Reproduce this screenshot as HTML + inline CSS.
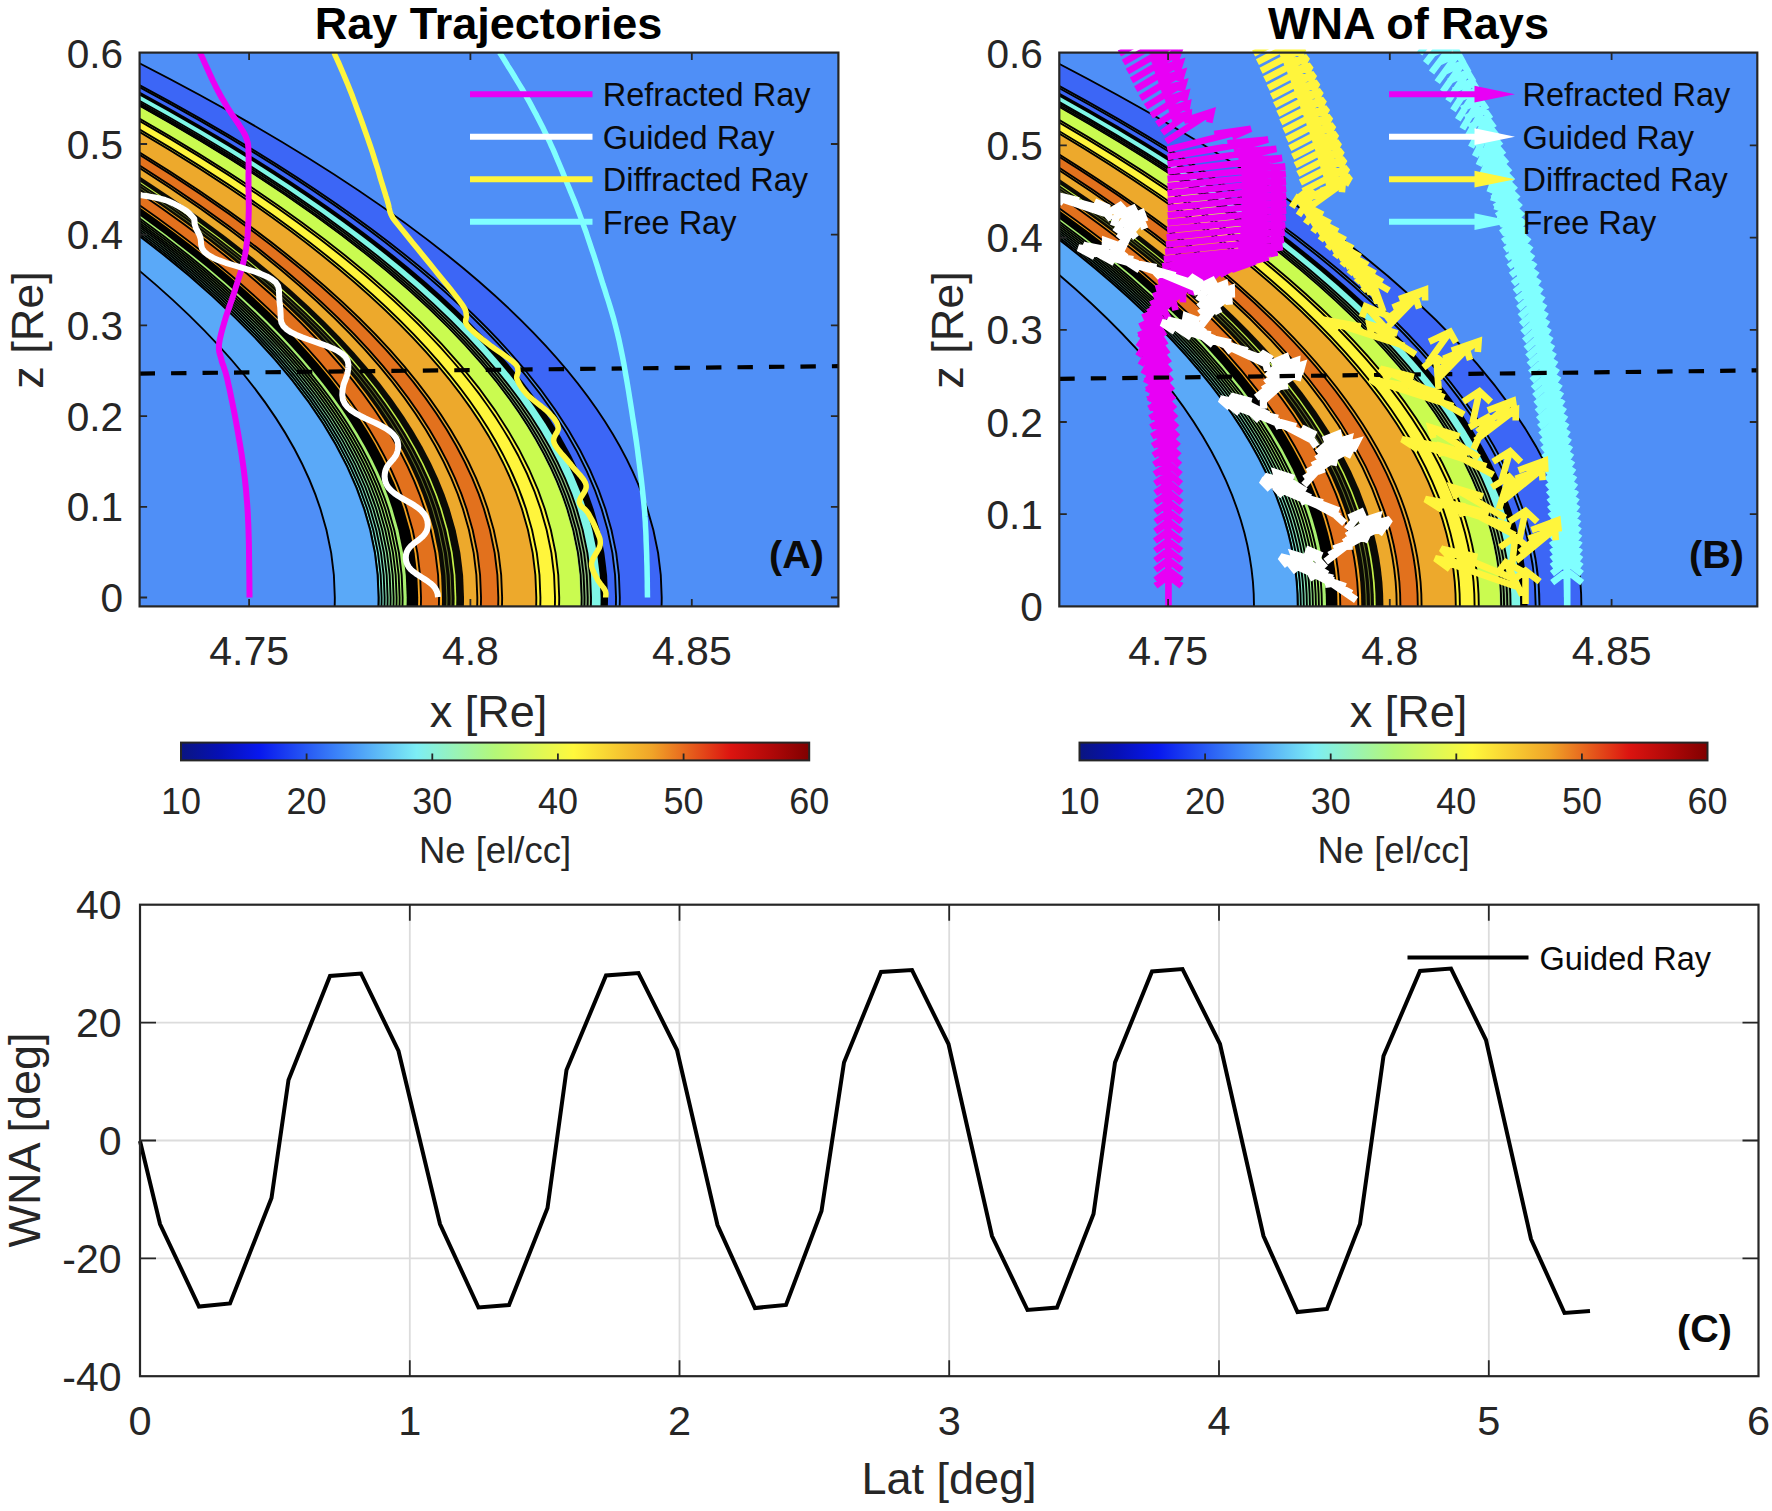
<!DOCTYPE html>
<html lang="en"><head><meta charset="utf-8"><title>Ray Trajectories and WNA of Rays</title>
<style>html,body{margin:0;padding:0;background:#fff}svg{display:block}text{font-family:"Liberation Sans", Arial, Helvetica, sans-serif}</style>
</head><body>
<svg width="1772" height="1511" viewBox="0 0 1772 1511">
<rect width="1772" height="1511" fill="#fff"/>
<defs><clipPath id="clipA"><rect x="139.6" y="52.6" width="698.8" height="553.8"/></clipPath>
<path id="rA" d="M-0.2,608.4 Q10.9,329.5 -547.3,50.6 L-2500,50.6 L-2500,608.4 Z"/>
<path id="lA" d="M-0.2,608.4 Q10.9,329.5 -547.3,50.6"/></defs>
<g clip-path="url(#clipA)">
<rect x="139.6" y="52.6" width="698.8" height="553.8" fill="#4F8FF7"/>
<use href="#rA" x="661.7" fill="#3C66F6"/>
<use href="#lA" x="661.7" fill="none" stroke="#000" stroke-width="1.9"/>
<use href="#rA" x="619.8" fill="#4F8FF7"/>
<use href="#lA" x="619.8" fill="none" stroke="#000" stroke-width="1.9"/>
<use href="#rA" x="616" fill="#3C66F6"/>
<use href="#lA" x="616" fill="none" stroke="#000" stroke-width="1.9"/>
<use href="#rA" x="608" fill="#000"/>
<use href="#rA" x="600.6" fill="#7FF6E6"/>
<use href="#rA" x="591" fill="#8FBF80"/>
<use href="#lA" x="591" fill="none" stroke="#000" stroke-width="1.9"/>
<use href="#lA" x="587.7" fill="none" stroke="#000" stroke-width="1.9"/>
<use href="#lA" x="584.5" fill="none" stroke="#000" stroke-width="1.9"/>
<use href="#lA" x="581.6" fill="none" stroke="#000" stroke-width="1.9"/>
<use href="#rA" x="580.3" fill="#CAFB50"/>
<use href="#rA" x="559.2" fill="#FFF53C"/>
<use href="#lA" x="559.2" fill="none" stroke="#000" stroke-width="1.9"/>
<use href="#lA" x="555" fill="none" stroke="#000" stroke-width="1.9"/>
<use href="#lA" x="540.4" fill="none" stroke="#000" stroke-width="1.9"/>
<use href="#rA" x="536.3" fill="#EDA92C"/>
<use href="#lA" x="536.3" fill="none" stroke="#000" stroke-width="1.9"/>
<use href="#lA" x="502.1" fill="none" stroke="#000" stroke-width="1.9"/>
<use href="#rA" x="498.3" fill="#E2711D"/>
<use href="#lA" x="498.3" fill="none" stroke="#000" stroke-width="1.9"/>
<use href="#rA" x="481" fill="#EDA92C"/>
<use href="#lA" x="481" fill="none" stroke="#000" stroke-width="1.9"/>
<use href="#lA" x="477.3" fill="none" stroke="#000" stroke-width="1.9"/>
<use href="#rA" x="464" fill="#0a0a05"/>
<use href="#rA" x="456.3" fill="#C4F04A"/>
<use href="#rA" x="454.6" fill="#0a0a05"/>
<use href="#rA" x="451.6" fill="#6b7a2a"/>
<use href="#rA" x="450.6" fill="#0a0a05"/>
<use href="#rA" x="447.4" fill="#6b7a2a"/>
<use href="#rA" x="446.4" fill="#0a0a05"/>
<use href="#rA" x="442" fill="#F2A21E"/>
<use href="#rA" x="439" fill="#E2711D"/>
<use href="#lA" x="439" fill="none" stroke="#000" stroke-width="1.9"/>
<use href="#rA" x="421" fill="#F2A21E"/>
<use href="#lA" x="421" fill="none" stroke="#000" stroke-width="1.9"/>
<use href="#rA" x="418.2" fill="#000"/>
<use href="#rA" x="406.7" fill="#A8F070"/>
<use href="#lA" x="402.6" fill="none" stroke="#000" stroke-width="1.9"/>
<use href="#rA" x="399.6" fill="#A8F070"/>
<use href="#lA" x="399.6" fill="none" stroke="#000" stroke-width="1.9"/>
<use href="#rA" x="396.6" fill="#A0EE82"/>
<use href="#lA" x="396.6" fill="none" stroke="#000" stroke-width="1.9"/>
<use href="#rA" x="393.6" fill="#98ED95"/>
<use href="#lA" x="393.6" fill="none" stroke="#000" stroke-width="1.9"/>
<use href="#rA" x="390.6" fill="#90EBA7"/>
<use href="#lA" x="390.6" fill="none" stroke="#000" stroke-width="1.9"/>
<use href="#rA" x="387.6" fill="#88E9B9"/>
<use href="#lA" x="387.6" fill="none" stroke="#000" stroke-width="1.9"/>
<use href="#rA" x="384.6" fill="#80E7CB"/>
<use href="#lA" x="384.6" fill="none" stroke="#000" stroke-width="1.9"/>
<use href="#rA" x="381.6" fill="#78E6DE"/>
<use href="#lA" x="381.6" fill="none" stroke="#000" stroke-width="1.9"/>
<use href="#rA" x="378.6" fill="#70E4F0"/>
<use href="#lA" x="378.6" fill="none" stroke="#000" stroke-width="1.9"/>
<use href="#rA" x="378.5" fill="#5AA9F8"/>
<use href="#lA" x="378.5" fill="none" stroke="#000" stroke-width="1.9"/>
<use href="#rA" x="334.8" fill="#4F8FF7"/>
<use href="#lA" x="334.8" fill="none" stroke="#000" stroke-width="1.9"/>
</g>
<g clip-path="url(#clipA)" fill="none" stroke-linejoin="round">
<path d="M139.6,373.6 L838.4,366.2" stroke="#000" stroke-width="4.2" stroke-dasharray="15.4,16.07"/>
<path d="M200,52.5 200.9,54.5 202.1,57.1 203.5,60.2 205,63.6 206.7,67.3 208.5,71.2 210.2,75 211.9,78.6 213.5,82 215,85 216.3,87.7 217.6,90.2 218.9,92.5 220.1,94.8 221.3,97 222.5,99.1 223.8,101.2 225,103.3 226.2,105.4 227.5,107.5 228.8,109.7 230.3,111.9 231.7,114.1 233.2,116.3 234.7,118.4 236.1,120.5 237.5,122.5 238.8,124.5 239.9,126.3 241,128 241.9,129.5 242.8,130.9 243.5,132.2 244.2,133.4 244.8,134.5 245.3,135.6 245.8,136.7 246.2,137.7 246.6,138.8 247,140 247.3,141.1 247.6,142.1 247.8,142.9 248,143.8 248.1,144.7 248.2,145.7 248.3,146.9 248.4,148.3 248.4,149.9 248.5,152 248.6,154.4 248.6,157.2 248.6,160.3 248.6,163.6 248.6,167.1 248.6,170.6 248.5,174.3 248.5,177.9 248.5,181.5 248.5,185 248.5,188.4 248.6,191.9 248.6,195.4 248.7,198.9 248.7,202.4 248.8,205.9 248.8,209.4 248.7,213 248.6,216.5 248.5,220 248.3,223.5 248.1,227 247.9,230.5 247.7,234 247.4,237.5 247,241 246.6,244.5 246.2,248 245.6,251.5 245,255 244.3,258.5 243.4,262.1 242.5,265.7 241.5,269.2 240.4,272.8 239.3,276.4 238.2,279.9 237.1,283.3 236,286.7 235,290 234,293.2 232.9,296.4 231.9,299.5 230.8,302.6 229.8,305.6 228.7,308.6 227.7,311.5 226.7,314.4 225.8,317.2 225,320 224.2,322.7 223.4,325.5 222.6,328.2 221.9,330.8 221.2,333.4 220.6,336 220,338.4 219.6,340.7 219.2,342.9 219,345 218.9,346.9 218.9,348.6 219,350.1 219.2,351.5 219.5,352.8 219.8,354.1 220.2,355.4 220.6,356.8 221.1,358.3 221.5,360 221.9,361.7 222.4,363.2 222.9,364.7 223.5,366.2 224,367.8 224.6,369.6 225.3,371.6 226,374 226.7,376.8 227.5,380 228.3,383.8 229.3,388.1 230.3,392.8 231.3,397.8 232.4,403.1 233.5,408.6 234.6,414.1 235.6,419.5 236.6,424.9 237.5,430 238.4,435 239.2,440 240.1,445 240.9,450 241.7,455 242.4,460 243.1,465 243.8,470 244.4,475 245,480 245.5,484.9 246,489.7 246.4,494.4 246.8,499.2 247.2,503.9 247.5,508.7 247.8,513.7 248,518.9 248.3,524.3 248.5,530 248.7,536.3 248.9,543.5 249,551.1 249.1,559 249.2,566.9 249.3,574.5 249.4,581.7 249.4,588 249.5,593.4 249.5,597.5" stroke="#E800F5" stroke-width="6"/>
<path d="M140,195 142,195.4 144.6,195.8 147.8,196.3 151.2,196.9 154.9,197.5 158.5,198.3 161.9,199.1 165,200 167.8,201 170.6,202.2 173.3,203.4 176,204.8 178.5,206.1 180.9,207.5 183,208.8 185,210 186.7,211.2 188.3,212.5 189.7,213.8 190.9,215.1 192,216.3 192.9,217.3 193.7,218.2 194.3,218.9 194.4,221.1 194.6,223.1 194.9,224.9 195.4,226.4 195.9,227.9 196.5,229.2 197.1,230.4 197.7,231.6 198.3,232.8 198.9,234 199.5,235.3 200,236.8 200.5,238.3 200.8,240.1 201,242.1 201.1,244.3 202,248.3 204.4,251.9 208.3,255 213.3,257.9 219.2,260.4 225.7,262.8 232.8,265 240.1,267.1 247.3,269.3 254.4,271.5 260.9,273.9 266.8,276.4 271.8,279.3 275.7,282.4 278.1,286 279,290 279,292.5 279.1,294.8 279.2,296.8 279.3,298.5 279.4,300.2 279.5,301.6 279.7,303 279.8,304.4 280,305.8 280.2,307.2 280.3,308.6 280.4,310.2 280.5,312 280.6,314 280.7,316.3 280.7,318.8 281.5,322.8 283.6,326.4 286.9,329.5 291.3,332.4 296.4,334.9 302.1,337.3 308.2,339.5 314.6,341.6 320.9,343.8 327,346 332.7,348.4 337.8,350.9 342.2,353.8 345.5,356.9 347.6,360.5 348.4,364.5 348.3,367.2 348.1,369.6 347.8,371.7 347.4,373.6 347,375.3 346.5,376.9 345.9,378.4 345.4,379.9 344.8,381.3 344.2,382.8 343.7,384.4 343.3,386.1 342.9,388 342.6,390.1 342.4,392.5 342.3,395.2 342.9,399.7 344.7,403.6 347.5,407.1 351,410.3 355.3,413.1 360,415.7 365,418.2 370.2,420.6 375.5,423 380.5,425.5 385.2,428.1 389.5,430.9 393,434.1 395.8,437.6 397.6,441.5 398.2,446 398,448.7 397.6,451.1 396.9,453.2 396.1,455.1 395,456.8 393.9,458.3 392.7,459.8 391.4,461.2 390.1,462.7 388.9,464.2 387.8,465.7 386.7,467.4 385.9,469.3 385.2,471.4 384.8,473.8 384.6,476.5 385.1,480.7 386.5,484.5 388.6,487.8 391.4,490.8 394.6,493.5 398.3,496 402.2,498.3 406.2,500.6 410.2,502.9 414.1,505.2 417.8,507.7 421.1,510.4 423.8,513.4 425.9,516.7 427.3,520.5 427.8,524.7 427.6,527.6 426.9,530.2 425.8,532.5 424.4,534.5 422.7,536.4 420.8,538.1 418.9,539.7 416.8,541.2 414.7,542.8 412.8,544.4 410.9,546.1 409.2,548 407.8,550 406.7,552.3 406,554.9 405.8,557.8 406.2,561.3 407.2,564.3 408.8,567.1 410.8,569.5 413.3,571.7 416,573.7 418.9,575.6 421.9,577.5 424.9,579.4 427.8,581.3 430.5,583.3 433,585.5 435,587.9 436.6,590.7 437.6,593.7 438,597.2" stroke="#fff" stroke-width="6"/>
<path d="M334,52.5 335.2,55.3 336.8,58.8 338.7,63 340.8,67.8 343,73 345.3,78.5 347.7,84.2 350,90 352.4,96.1 354.9,102.9 357.5,110 360.2,117.3 362.9,124.7 365.4,131.9 367.8,138.7 370,145 372,150.9 373.8,156.6 375.5,162.1 377.2,167.3 378.7,172.3 380,176.9 381.3,181.2 382.5,185 383.5,188.3 384.4,191.2 385.2,193.7 385.8,195.8 386.4,197.7 387,199.5 387.5,201.2 388,203 388.5,204.7 388.8,206.3 389.1,207.8 389.4,209.1 389.6,210.4 390,211.7 390.4,213 391,214.4 391.6,215.6 392,216.5 392.5,217.3 393,218.2 393.8,219.3 394.9,220.7 396.5,222.7 398.6,225.4 401.4,228.9 404.8,233.1 408.6,237.8 412.8,242.9 417.2,248.3 421.6,253.7 425.9,259 430,264 434.1,269.1 438.4,274.4 442.9,279.9 447.3,285.3 451.5,290.5 455.3,295.4 458.6,299.7 461.3,303.3 463.2,306.1 464.5,308.2 465.3,309.8 465.7,311 465.9,312 466,312.9 466.1,313.9 466.3,315.1 466.5,316.4 466.3,317.6 466.1,318.7 465.7,319.8 465.6,320.9 465.7,322.2 466.1,323.6 467.2,325.3 468.8,327.2 471,329.4 473.4,331.7 476.2,334.1 479.2,336.6 482.2,339.1 485.3,341.5 488.3,343.9 491.4,346.3 494.8,348.8 498.4,351.3 502.1,353.8 505.5,356.3 508.7,358.6 511.5,360.7 513.7,362.5 515.3,364 516.4,365.3 517.1,366.4 517.5,367.4 517.7,368.3 517.8,369.1 517.9,370 518,371 518.1,372 517.9,372.9 517.6,373.9 517.2,374.8 516.9,375.7 516.7,376.8 516.7,378 517.1,379.4 517.8,381 518.6,382.7 519.6,384.5 520.8,386.4 522.1,388.4 523.7,390.5 525.4,392.6 527.3,394.7 529.6,396.9 532.3,399.2 535.3,401.6 538.4,404.1 541.5,406.5 544.4,408.9 547.1,411.2 549.3,413.3 551.1,415.3 552.8,417.1 554.2,418.9 555.4,420.6 556.4,422.2 557.2,423.9 557.8,425.6 558.2,427.4 558.2,429.2 557.6,431 556.7,432.7 555.6,434.5 554.6,436.4 553.9,438.3 553.6,440.4 554,442.6 555.1,445 556.8,447.7 558.9,450.4 561.2,453.3 563.8,456.2 566.3,459.1 568.7,461.9 570.9,464.6 573,467.3 575.3,469.9 577.7,472.5 580,475.1 582.1,477.7 583.9,480.2 585.3,482.6 586.1,485 586.2,487.3 585.6,489.6 584.5,491.8 583.1,494 581.7,496.1 580.4,498.2 579.6,500.1 579.3,501.9 579.6,503.5 580.4,504.9 581.4,506.2 582.6,507.3 584,508.5 585.4,509.8 586.8,511.3 588,513 589.2,515 590.4,517.2 591.7,519.6 593,522.1 594.2,524.7 595.3,527.1 596.3,529.5 597.2,531.6 597.9,533.5 598.6,535.2 599.2,536.8 599.8,538.4 600.1,539.9 600.3,541.5 600.3,543.2 600.1,545.1 599.5,547.2 598.4,549.4 597.1,551.7 595.7,554 594.3,556.4 593,558.7 592.1,561 591.6,563.2 591.6,565.3 592,567.4 592.6,569.5 593.4,571.5 594.3,573.5 595.3,575.4 596.3,577.3 597.2,579 598.1,580.7 599.2,582.2 600.3,583.7 601.5,585.2 602.6,586.6 603.6,587.9 604.4,589.1 605.1,590.3 605.5,591.4 605.8,592.6 605.9,593.6 605.9,594.6 605.8,595.5 605.8,596.3 605.7,597 605.7,597.5" stroke="#FFF53C" stroke-width="5.5"/>
<path d="M499.6,52.5 501.1,54.9 503.1,58 505.4,61.7 507.9,65.9 510.7,70.3 513.6,75 516.5,79.8 519.4,84.6 522.2,89.2 524.7,93.6 527.1,97.9 529.5,102.2 531.9,106.6 534.2,111 536.6,115.4 538.8,119.8 541.1,124.3 543.3,128.6 545.4,133 547.5,137.3 549.5,141.5 551.4,145.8 553.3,149.9 555.1,154.1 556.8,158.2 558.5,162.3 560.3,166.5 562,170.6 563.7,174.8 565.4,179 567.1,183.2 568.8,187.3 570.5,191.3 572.1,195.3 573.8,199.4 575.5,203.6 577.1,207.8 578.8,212.3 580.5,216.9 582.3,221.7 584.1,226.8 586,232 587.8,237.5 589.7,243.1 591.6,248.8 593.6,254.6 595.5,260.5 597.4,266.4 599.2,272.4 601.1,278.3 602.9,284.2 604.8,289.9 606.6,295.7 608.5,301.5 610.3,307.4 612.1,313.4 613.9,319.6 615.6,326.1 617.3,332.9 619,340 620.6,347.6 622.3,355.7 623.9,364.1 625.4,372.8 627,381.7 628.5,390.6 629.9,399.5 631.3,408.3 632.6,416.8 633.9,425 635.1,433 636.3,441 637.4,449 638.4,456.9 639.4,464.7 640.4,472.3 641.3,479.7 642.1,486.8 642.8,493.6 643.5,500 644.1,506 644.6,511.6 644.9,516.9 645.3,521.9 645.5,526.7 645.8,531.4 646,536 646.1,540.6 646.3,545.2 646.5,550 646.7,555.1 646.8,560.4 647,565.9 647.1,571.5 647.2,576.9 647.3,582 647.3,586.8 647.4,591.1 647.4,594.7 647.5,597.5" stroke="#80FFFF" stroke-width="5.5"/>
</g>
<path d="M470,94.2 H592.5" stroke="#E800F5" stroke-width="6"/>
<text x="602.8" y="106.2" font-size="32.5" text-anchor="start" font-weight="normal" fill="#0a0a0a">Refracted Ray</text>
<path d="M470,136.7 H592.5" stroke="#fff" stroke-width="6"/>
<text x="602.8" y="148.7" font-size="32.5" text-anchor="start" font-weight="normal" fill="#0a0a0a">Guided Ray</text>
<path d="M470,179.2 H592.5" stroke="#FFF53C" stroke-width="6"/>
<text x="602.8" y="191.2" font-size="32.5" text-anchor="start" font-weight="normal" fill="#0a0a0a">Diffracted Ray</text>
<path d="M470,221.7 H592.5" stroke="#80FFFF" stroke-width="6"/>
<text x="602.8" y="233.7" font-size="32.5" text-anchor="start" font-weight="normal" fill="#0a0a0a">Free Ray</text>
<text x="769" y="568" font-size="39.5" text-anchor="start" font-weight="bold" fill="#0a0a0a">(A)</text>
<rect x="139.6" y="52.6" width="698.8" height="553.8" fill="none" stroke="#262626" stroke-width="2.2"/>
<text x="249.1" y="664.5" font-size="41" text-anchor="middle" font-weight="normal" fill="#262626">4.75</text>
<text x="470.4" y="664.5" font-size="41" text-anchor="middle" font-weight="normal" fill="#262626">4.8</text>
<text x="691.8" y="664.5" font-size="41" text-anchor="middle" font-weight="normal" fill="#262626">4.85</text>
<text x="123.1" y="612" font-size="40.6" text-anchor="end" font-weight="normal" fill="#262626">0</text>
<text x="123.1" y="521.3" font-size="40.6" text-anchor="end" font-weight="normal" fill="#262626">0.1</text>
<text x="123.1" y="430.6" font-size="40.6" text-anchor="end" font-weight="normal" fill="#262626">0.2</text>
<text x="123.1" y="339.9" font-size="40.6" text-anchor="end" font-weight="normal" fill="#262626">0.3</text>
<text x="123.1" y="249.2" font-size="40.6" text-anchor="end" font-weight="normal" fill="#262626">0.4</text>
<text x="123.1" y="158.5" font-size="40.6" text-anchor="end" font-weight="normal" fill="#262626">0.5</text>
<text x="123.1" y="67.8" font-size="40.6" text-anchor="end" font-weight="normal" fill="#262626">0.6</text>
<path d="M249.1,606.4 v-7.5 M249.1,52.6 v7.5 M470.4,606.4 v-7.5 M470.4,52.6 v7.5 M691.8,606.4 v-7.5 M691.8,52.6 v7.5 M139.6,597.5 h7.5 M838.4,597.5 h-7.5 M139.6,506.8 h7.5 M838.4,506.8 h-7.5 M139.6,416.1 h7.5 M838.4,416.1 h-7.5 M139.6,325.4 h7.5 M838.4,325.4 h-7.5 M139.6,234.7 h7.5 M838.4,234.7 h-7.5 M139.6,144 h7.5 M838.4,144 h-7.5" stroke="#262626" stroke-width="1.8" fill="none"/>
<text x="488.5" y="38.5" font-size="45" text-anchor="middle" font-weight="bold" fill="#000">Ray Trajectories</text>
<text x="488.5" y="726.5" font-size="45" text-anchor="middle" font-weight="normal" fill="#262626">x [Re]</text>
<text transform="translate(42.5,330) rotate(-90)" font-size="45" text-anchor="middle" fill="#262626">z [Re]</text>
<defs><linearGradient id="jet" x1="0" x2="1" y1="0" y2="0">
<stop offset="0%" stop-color="#0A1580"/>
<stop offset="6%" stop-color="#0610B4"/>
<stop offset="12.5%" stop-color="#0818EE"/>
<stop offset="25%" stop-color="#3C84F8"/>
<stop offset="37.5%" stop-color="#7DEEF5"/>
<stop offset="50%" stop-color="#B4F878"/>
<stop offset="62.5%" stop-color="#FFF83C"/>
<stop offset="75%" stop-color="#F0A428"/>
<stop offset="87.5%" stop-color="#DC1410"/>
<stop offset="94%" stop-color="#B00808"/>
<stop offset="100%" stop-color="#800000"/>
</linearGradient></defs>
<rect x="181" y="742.6" width="628.2" height="17.8" fill="url(#jet)" stroke="#262626" stroke-width="2"/>
<text x="181" y="813.5" font-size="36" text-anchor="middle" font-weight="normal" fill="#262626">10</text>
<text x="306.6" y="813.5" font-size="36" text-anchor="middle" font-weight="normal" fill="#262626">20</text>
<text x="432.3" y="813.5" font-size="36" text-anchor="middle" font-weight="normal" fill="#262626">30</text>
<text x="557.9" y="813.5" font-size="36" text-anchor="middle" font-weight="normal" fill="#262626">40</text>
<text x="683.6" y="813.5" font-size="36" text-anchor="middle" font-weight="normal" fill="#262626">50</text>
<text x="809.2" y="813.5" font-size="36" text-anchor="middle" font-weight="normal" fill="#262626">60</text>
<path d="M306.6,760.4 v-7 M432.3,760.4 v-7 M557.9,760.4 v-7 M683.6,760.4 v-7" stroke="#262626" stroke-width="1.8" fill="none"/>
<text x="495" y="862.5" font-size="36.5" text-anchor="middle" font-weight="normal" fill="#262626">Ne [el/cc]</text>
<rect x="1079.5" y="742.6" width="628" height="17.8" fill="url(#jet)" stroke="#262626" stroke-width="2"/>
<text x="1079.5" y="813.5" font-size="36" text-anchor="middle" font-weight="normal" fill="#262626">10</text>
<text x="1205.1" y="813.5" font-size="36" text-anchor="middle" font-weight="normal" fill="#262626">20</text>
<text x="1330.7" y="813.5" font-size="36" text-anchor="middle" font-weight="normal" fill="#262626">30</text>
<text x="1456.3" y="813.5" font-size="36" text-anchor="middle" font-weight="normal" fill="#262626">40</text>
<text x="1581.9" y="813.5" font-size="36" text-anchor="middle" font-weight="normal" fill="#262626">50</text>
<text x="1707.5" y="813.5" font-size="36" text-anchor="middle" font-weight="normal" fill="#262626">60</text>
<path d="M1205.1,760.4 v-7 M1330.7,760.4 v-7 M1456.3,760.4 v-7 M1581.9,760.4 v-7" stroke="#262626" stroke-width="1.8" fill="none"/>
<text x="1393.5" y="862.5" font-size="36.5" text-anchor="middle" font-weight="normal" fill="#262626">Ne [el/cc]</text>
<defs><clipPath id="clipB"><rect x="1059.3" y="52.6" width="698" height="553.8"/></clipPath>
<path id="rB" d="M-0,608.4 Q2,329.5 -548,50.6 L-2500,50.6 L-2500,608.4 Z"/>
<path id="lB" d="M-0,608.4 Q2,329.5 -548,50.6"/></defs>
<g clip-path="url(#clipB)">
<rect x="1059.3" y="52.6" width="698" height="553.8" fill="#4F8FF7"/>
<use href="#rB" x="1581.4" fill="#3C66F6"/>
<use href="#lB" x="1581.4" fill="none" stroke="#000" stroke-width="1.9"/>
<use href="#rB" x="1539.5" fill="#4F8FF7"/>
<use href="#lB" x="1539.5" fill="none" stroke="#000" stroke-width="1.9"/>
<use href="#rB" x="1535.7" fill="#3C66F6"/>
<use href="#lB" x="1535.7" fill="none" stroke="#000" stroke-width="1.9"/>
<use href="#rB" x="1527.6" fill="#000"/>
<use href="#rB" x="1520.2" fill="#7FF6E6"/>
<use href="#rB" x="1510.6" fill="#8FBF80"/>
<use href="#lB" x="1510.6" fill="none" stroke="#000" stroke-width="1.9"/>
<use href="#lB" x="1507.3" fill="none" stroke="#000" stroke-width="1.9"/>
<use href="#lB" x="1504.1" fill="none" stroke="#000" stroke-width="1.9"/>
<use href="#lB" x="1501.2" fill="none" stroke="#000" stroke-width="1.9"/>
<use href="#rB" x="1499.9" fill="#CAFB50"/>
<use href="#rB" x="1478.8" fill="#FFF53C"/>
<use href="#lB" x="1478.8" fill="none" stroke="#000" stroke-width="1.9"/>
<use href="#lB" x="1474.6" fill="none" stroke="#000" stroke-width="1.9"/>
<use href="#lB" x="1459.9" fill="none" stroke="#000" stroke-width="1.9"/>
<use href="#rB" x="1455.8" fill="#EDA92C"/>
<use href="#lB" x="1455.8" fill="none" stroke="#000" stroke-width="1.9"/>
<use href="#lB" x="1421.6" fill="none" stroke="#000" stroke-width="1.9"/>
<use href="#rB" x="1417.8" fill="#E2711D"/>
<use href="#lB" x="1417.8" fill="none" stroke="#000" stroke-width="1.9"/>
<use href="#rB" x="1400.4" fill="#EDA92C"/>
<use href="#lB" x="1400.4" fill="none" stroke="#000" stroke-width="1.9"/>
<use href="#lB" x="1396.7" fill="none" stroke="#000" stroke-width="1.9"/>
<use href="#rB" x="1383.4" fill="#0a0a05"/>
<use href="#rB" x="1375.7" fill="#C4F04A"/>
<use href="#rB" x="1374" fill="#0a0a05"/>
<use href="#rB" x="1371" fill="#6b7a2a"/>
<use href="#rB" x="1370" fill="#0a0a05"/>
<use href="#rB" x="1366.8" fill="#6b7a2a"/>
<use href="#rB" x="1365.8" fill="#0a0a05"/>
<use href="#rB" x="1361.3" fill="#F2A21E"/>
<use href="#rB" x="1358.3" fill="#E2711D"/>
<use href="#lB" x="1358.3" fill="none" stroke="#000" stroke-width="1.9"/>
<use href="#rB" x="1340.3" fill="#F2A21E"/>
<use href="#lB" x="1340.3" fill="none" stroke="#000" stroke-width="1.9"/>
<use href="#rB" x="1337.5" fill="#000"/>
<use href="#rB" x="1326" fill="#A8F070"/>
<use href="#lB" x="1321.9" fill="none" stroke="#000" stroke-width="1.9"/>
<use href="#rB" x="1318.9" fill="#A8F070"/>
<use href="#lB" x="1318.9" fill="none" stroke="#000" stroke-width="1.9"/>
<use href="#rB" x="1315.9" fill="#A0EE82"/>
<use href="#lB" x="1315.9" fill="none" stroke="#000" stroke-width="1.9"/>
<use href="#rB" x="1312.9" fill="#98ED95"/>
<use href="#lB" x="1312.9" fill="none" stroke="#000" stroke-width="1.9"/>
<use href="#rB" x="1309.9" fill="#90EBA7"/>
<use href="#lB" x="1309.9" fill="none" stroke="#000" stroke-width="1.9"/>
<use href="#rB" x="1306.9" fill="#88E9B9"/>
<use href="#lB" x="1306.9" fill="none" stroke="#000" stroke-width="1.9"/>
<use href="#rB" x="1303.8" fill="#80E7CB"/>
<use href="#lB" x="1303.8" fill="none" stroke="#000" stroke-width="1.9"/>
<use href="#rB" x="1300.8" fill="#78E6DE"/>
<use href="#lB" x="1300.8" fill="none" stroke="#000" stroke-width="1.9"/>
<use href="#rB" x="1297.8" fill="#70E4F0"/>
<use href="#lB" x="1297.8" fill="none" stroke="#000" stroke-width="1.9"/>
<use href="#rB" x="1297.7" fill="#5AA9F8"/>
<use href="#lB" x="1297.7" fill="none" stroke="#000" stroke-width="1.9"/>
<use href="#rB" x="1254" fill="#4F8FF7"/>
<use href="#lB" x="1254" fill="none" stroke="#000" stroke-width="1.9"/>
</g>
<defs><clipPath id="clipB2"><rect x="1059.3" y="49.6" width="698" height="556.8"/></clipPath></defs>
<g fill="none" stroke-width="6.6" stroke-linejoin="miter" stroke-miterlimit="2.5" clip-path="url(#clipB2)">
<path d="M1419.7,53.5L1442.4,25.3M1422.8,34.2L1442.4,25.3L1447,35M1425.6,63.1L1447.7,34.8M1428.3,43.7L1447.7,34.8L1452.6,44.5M1431.5,72.6L1453,44.2M1433.7,53.2L1453,44.2L1458.1,54M1437.2,82.1L1458.1,53.6M1439,62.6L1458.1,53.6L1463.5,63.4M1442.7,91.6L1463,62.9M1444,72L1463,62.9L1468.6,72.7M1448,101L1467.6,72.2M1448.8,81.3L1467.6,72.2L1473.5,82M1453,110.4L1472,81.4M1453.3,90.6L1472,81.4L1478.1,91.3M1457.8,119.7L1476.2,90.6M1457.7,99.8L1476.2,90.6L1482.6,100.5M1462.4,128.9L1479.9,99.7M1461.6,109L1479.9,99.7L1486.7,109.7M1466.8,138.1L1483.4,108.8M1465.4,118.2L1483.4,108.8L1490.5,118.8M1471,147.3L1486.7,117.9M1468.9,127.3L1486.7,117.9L1494.1,127.9M1474.9,156.4L1489.7,126.9M1472.1,136.3L1489.7,126.9L1497.5,136.9M1478.7,165.5L1492.5,135.8M1475.2,145.4L1492.5,135.8L1500.7,145.9M1482.4,174.5L1495.2,144.7M1478.2,154.3L1495.2,144.7L1503.7,154.8M1486,183.5L1497.9,153.6M1481.1,163.2L1497.9,153.6L1506.8,163.7M1489.6,192.5L1500.6,162.4M1484.1,172.1L1500.6,162.4L1509.9,172.5M1493.2,201.3L1503.2,171.2M1487,180.9L1503.2,171.2L1512.8,181.3M1496.7,210.2L1505.6,179.9M1489.7,189.7L1505.6,179.9L1515.6,190.1M1500,219L1507.8,188.6M1492.2,198.5L1507.8,188.6L1518.2,198.8M1503.1,227.8L1509.8,197.2M1494.5,207.2L1509.8,197.2L1520.6,207.4M1506.1,236.5L1511.7,205.9M1496.7,215.9L1511.7,205.9L1523,216.1M1509,245.1L1513.5,214.4M1498.9,224.5L1513.5,214.4L1525.2,224.6M1511.8,253.8L1515.2,222.9M1500.9,233L1515.2,222.9L1527.3,233.2M1514.6,262.3L1516.9,231.4M1502.9,241.6L1516.9,231.4L1529.4,241.7M1517.3,270.9L1518.5,239.9M1504.8,250.1L1518.5,239.9L1531.4,250.1M1520,279.4L1520,248.3M1506.7,258.5L1520,248.3L1533.3,258.5M1522.6,287.9L1521.8,256.7M1508.7,267L1521.8,256.7L1535.5,266.9M1525.2,296.3L1523.7,265M1510.8,275.3L1523.7,265L1537.6,275.3M1527.9,304.7L1525.5,273.3M1512.8,283.7L1525.5,273.3L1539.8,283.6M1530.4,313L1527.3,281.5M1514.8,292L1527.3,281.5L1541.8,291.9M1532.8,321.4L1528.9,289.8M1516.6,300.3L1528.9,289.8L1543.7,300.1M1535.1,329.6L1530.3,297.9M1518.3,308.5L1530.3,297.9L1545.5,308.3M1537.1,337.9L1531.6,306.1M1519.8,316.7L1531.6,306.1L1547,316.5M1539,346.1L1532.7,314.2M1521.1,324.8L1532.7,314.2L1548.4,324.6M1540.7,354.3L1534.1,322.3M1522.6,333L1534.1,322.3L1550,332.7M1542.3,362.4L1535.9,330.3M1524.2,341L1535.9,330.3L1551.7,340.8M1543.8,370.5L1537.6,338.3M1525.8,349L1537.6,338.3L1553.4,348.8M1545.2,378.5L1539.2,346.3M1527.4,357L1539.2,346.3L1555,356.8M1546.6,386.6L1540.8,354.2M1528.8,365L1540.8,354.2L1556.6,364.8M1547.9,394.5L1542.3,362.1M1530.2,372.9L1542.3,362.1L1558.1,372.7M1549.2,402.5L1543.8,369.9M1531.6,380.8L1543.8,369.9L1559.5,380.6M1550.4,410.4L1545.2,377.7M1532.9,388.6L1545.2,377.7L1560.9,388.4M1551.7,418.3L1546.7,385.5M1534.3,396.4L1546.7,385.5L1562.3,396.2M1552.8,426.1L1548.1,393.3M1535.6,404.2L1548.1,393.3L1563.7,404M1554,433.9L1549.4,401M1536.8,412L1549.4,401L1565.1,411.8M1555.2,441.7L1550.8,408.7M1538.1,419.7L1550.8,408.7L1566.4,419.5M1556.3,449.5L1552.1,416.3M1539.2,427.3L1552.1,416.3L1567.6,427.2M1557.3,457.2L1553.3,423.9M1540.4,435L1553.3,423.9L1568.9,434.8M1558.3,464.8L1554.5,431.5M1541.5,442.6L1554.5,431.5L1570,442.4M1559.3,472.5L1555.7,439M1542.5,450.1L1555.7,439L1571.2,450M1560.2,480.1L1556.8,446.5M1543.6,457.7L1556.8,446.5L1572.3,457.5M1561.1,487.6L1557.9,454M1544.5,465.2L1557.9,454L1573.3,465.1M1561.9,495.2L1558.9,461.5M1545.5,472.6L1558.9,461.5L1574.4,472.5M1562.7,502.7L1559.9,468.9M1546.4,480.1L1559.9,468.9L1575.3,480M1563.5,510.1L1560.9,476.2M1547.2,487.5L1560.9,476.2L1576.2,487.4M1564.1,517.6L1561.7,483.6M1548,494.8L1561.7,483.6L1577.1,494.7M1564.7,524.9L1562.5,490.9M1548.6,502.2L1562.5,490.9L1577.8,502.1M1565.1,532.3L1563.1,498.2M1549.1,509.5L1563.1,498.2L1578.4,509.4M1565.5,539.6L1563.7,505.4M1549.6,516.7L1563.7,505.4L1578.9,516.7M1565.8,546.9L1564.2,512.6M1550,524L1564.2,512.6L1579.4,523.9M1566.1,554.2L1564.6,519.8M1550.4,531.2L1564.6,519.8L1579.8,531.1M1566.3,561.4L1565.1,526.9M1550.7,538.3L1565.1,526.9L1580.3,538.3M1566.6,568.6L1565.5,534.1M1551,545.5L1565.5,534.1L1580.7,545.4M1566.7,575.8L1565.9,541.1M1551.3,552.6L1565.9,541.1L1581,552.6M1566.9,582.9L1566.2,548.2M1551.5,559.7L1566.2,548.2L1581.3,559.6M1567,590L1566.5,555.2M1551.7,566.7L1566.5,555.2L1581.6,566.7M1567.1,597.1L1566.8,562.2M1551.9,573.7L1566.8,562.2L1581.9,573.7M1567.2,606.2L1567.2,571.2M1552.2,582.7L1567.2,571.2L1582.2,582.7" stroke="#80FFFF"/>
<path d="M1119.4,53.5L1174.3,22.6M1143,31.8L1174.3,22.6L1169.5,33.8M1123.4,62.5L1175.7,32.6M1145.6,41.5L1175.7,32.6L1171.2,43.4M1127.4,71.5L1177.1,42.6M1148.3,51.2L1177.1,42.6L1173.1,53M1131.5,80.4L1178.6,52.5M1151.1,60.8L1178.6,52.5L1175,62.6M1135.8,89.2L1180.4,62.4M1154.2,70.4L1180.4,62.4L1177.2,72.1M1140.5,98.1L1182.3,72.5M1157.6,80.1L1182.3,72.5L1179.5,81.7M1145.6,106.8L1183.8,83M1161,90.2L1183.8,83L1181.4,91.6M1151.1,115.6L1185.9,93.5M1164.9,100.1L1185.9,93.5L1183.9,101.4M1156.9,124.3L1187.5,103.9M1168.6,110L1187.5,103.9L1186.1,111.2M1162.2,132.9L1188.6,113.6M1171.6,119.5L1188.6,113.6L1188.2,120.5M1166.1,141.5L1211.6,111.9M1183.9,120.8L1211.6,111.9L1209.3,122.5M1167.4,149.6L1250.8,128.7M1214.3,134L1250.8,128.7L1232.2,137.1M1167.6,156.9L1268,139.5M1227.4,143.4L1268,139.5L1242.3,147.1M1167.6,164.2L1276.3,148.9M1233.9,151.9L1276.3,148.9L1247,156M1167.6,171.5L1282,158.1M1238.5,160.4L1282,158.1L1250,164.6M1167.5,178.8L1285.2,166.6M1241.1,168.5L1285.2,166.6L1251.6,172.8M1167.5,186.1L1285.7,174.1M1241.6,175.9L1285.7,174.1L1251.8,180.3M1167.5,193.4L1285.8,181.4M1241.6,183.2L1285.8,181.4L1251.9,187.6M1167.7,200.7L1286,188.7M1241.8,190.5L1286,188.7L1252.1,194.9M1167.7,208L1286.1,196M1241.9,197.8L1286.1,196L1252.2,202.1M1167.7,215.3L1286.2,203.3M1241.9,205.1L1286.2,203.3L1252.2,209.4M1167.5,222.6L1286,210.6M1241.7,212.4L1286,210.6L1252,216.7M1167.1,229.9L1285.7,217.9M1241.4,219.6L1285.7,217.9L1251.7,224M1166.6,237.2L1285.2,225.2M1240.9,226.9L1285.2,225.2L1251.3,231.3M1166,244.5L1284.6,232.5M1240.3,234.2L1284.6,232.5L1250.6,238.6M1165.1,251.8L1283.8,239.8M1239.4,241.5L1283.8,239.8L1249.8,245.9M1163.8,259.1L1282.6,247.1M1238.2,248.8L1282.6,247.1L1248.5,253.2M1162.2,266.4L1277.5,252.6M1233.5,255L1277.5,252.6L1245.3,259.3M1160.2,273.7L1268.5,257.2M1225.7,260.6L1268.5,257.2L1239.8,264.6M1157.9,281.1L1255.6,261.5M1215,266.2L1255.6,261.5L1231.7,269.8M1155.6,288.7L1236.7,265.7M1200.1,271.8L1236.7,265.7L1219.8,274.8M1153.2,296.4L1220,271.2M1187.1,278.3L1220,271.2L1208.7,280.8M1150.6,304.4L1205.6,277.6M1176,285.4L1205.6,277.6L1198.9,287.5M1147.8,312.5L1194.2,284.7M1166.9,293L1194.2,284.7L1190.7,294.7M1145,320.8L1183.2,292.2M1158.4,300.9L1183.2,292.2L1182.9,302.4M1142.5,329.4L1173.1,300M1150.5,309.1L1173.1,300L1175.6,310.3M1140.1,338.1L1163,308.1M1142.6,317.6L1163,308.1L1168.3,318.4M1138.3,347L1159.7,316.9M1139.7,326.5L1159.7,316.9L1165.5,327.3M1138.1,356.1L1158.1,325.9M1138.6,335.5L1158.1,325.9L1164.4,336.2M1140.5,365.1L1159,334.9M1139.9,344.6L1159,334.9L1165.8,345.2M1143.4,374.2L1160.4,344M1141.8,353.6L1160.4,344L1167.8,354.3M1146,383.3L1161.5,353M1143.4,362.7L1161.5,353L1169.3,363.3M1148,392.4L1162,362.1M1144.4,371.9L1162,362.1L1170.4,372.4M1149.9,401.6L1162.5,371.3M1145.4,381L1162.5,371.3L1171.4,381.5M1151.8,410.8L1163.5,380.4M1146.6,390.2L1163.5,380.4L1172.6,390.7M1153.5,420L1164.4,389.6M1147.8,399.5L1164.4,389.6L1173.8,399.9M1155.3,429.2L1165.2,398.9M1148.9,408.7L1165.2,398.9L1174.9,409.1M1156.9,438.5L1166,408.1M1150,418L1166,408.1L1176,418.3M1158.5,447.8L1166.6,417.4M1150.9,427.3L1166.6,417.4L1177,427.6M1160,457.1L1167.3,426.7M1151.8,436.6L1167.3,426.7L1177.9,436.9M1161.4,466.5L1167.8,436.1M1152.6,446L1167.8,436.1L1178.7,446.2M1162.7,475.8L1168.2,445.4M1153.3,455.4L1168.2,445.4L1179.4,455.6M1163.8,485.3L1168.6,454.8M1154,464.8L1168.6,454.8L1180,465M1164.8,494.7L1169,464.3M1154.5,474.2L1169,464.3L1180.6,474.4M1165.6,504.2L1169.2,473.7M1155,483.7L1169.2,473.7L1181,483.8M1166.3,513.6L1169.3,483.2M1155.3,493.2L1169.3,483.2L1181.3,493.3M1166.9,523.2L1169.2,492.7M1155.4,502.7L1169.2,492.7L1181.5,502.8M1167.3,532.7L1169,502.3M1155.4,512.3L1169,502.3L1181.5,512.4M1167.6,542.3L1168.8,511.9M1155.4,521.9L1168.8,511.9L1181.4,521.9M1167.9,551.9L1168.4,521.5M1155.2,531.5L1168.4,521.5L1181.3,531.5M1168,561.5L1168,531.1M1155,541.2L1168,531.1L1181.1,541.2M1168.2,571.2L1168.2,540.8M1155.1,550.8L1168.2,540.8L1181.2,550.8M1168.3,580.9L1168.3,550.5M1155.2,560.5L1168.3,550.5L1181.3,560.5M1168.4,590.6L1168.4,560.2M1155.3,570.2L1168.4,560.2L1181.4,570.2M1168.4,600.4L1168.4,570M1155.4,580L1168.4,570L1181.5,580M1168.5,606.2L1168.5,575.8M1155.5,585.8L1168.5,575.8L1181.5,585.8" stroke="#E800F5"/>
<path d="M1356.1,600L1328.1,580.7M1329.1,587.6L1328.1,580.7L1345.6,586.6M1351.6,593.6L1309.7,571.8M1314.2,579.8L1309.7,571.8L1332.9,578.2M1343,587.2L1289.5,562.9M1296.7,571.9L1289.5,562.9L1317.6,569.9M1333.4,580.8L1280.6,556.8M1287.7,565.7L1280.6,556.8L1308.4,563.7M1327.5,574.4L1293.7,554.4M1296.3,561.6L1293.7,554.4L1313.4,560.4M1325.3,568L1309.2,550.4M1306.9,556.5L1309.2,550.4L1322,555.9M1325.7,561.7L1349.1,543.5M1333.6,549L1349.1,543.5L1349.2,549.9M1329.2,555.3L1367.4,534.3M1345.8,540.5L1367.4,534.3L1363.8,541.9M1336.6,548.8L1384.8,525.4M1358.8,532.3L1384.8,525.4L1378.9,534.1M1343.6,542.4L1389.7,519.4M1364.7,526.2L1389.7,519.4L1384.4,527.9M1346.7,536L1377.6,516.3M1359,522.3L1377.6,516.3L1375.9,523.4M1346.8,529.6L1361.1,512.4M1349,517.8L1361.1,512.4L1363.8,518.4M1344.6,523.2L1324.8,505.4M1323.7,511.7L1324.8,505.4L1339,510.9M1339.2,516.8L1301.7,496.7M1305.4,504L1301.7,496.7L1322.7,502.7M1330,510.5L1274.8,486.9M1282.9,495.7L1274.8,486.9L1303.1,493.7M1319.1,504.1L1261.6,480.2M1270.3,489.2L1261.6,480.2L1290.9,487M1310.5,497.8L1264.9,476.4M1270.8,484.3L1264.9,476.4L1289.1,482.6M1305.7,491.4L1276.2,472.8M1278,479.5L1276.2,472.8L1293.9,478.4M1304,485.1L1320.2,467.4M1307.3,472.9L1320.2,467.4L1322.4,473.5M1304.4,478.7L1334.4,458.4M1315.8,464.5L1334.4,458.4L1333.2,465.7M1307.2,472.3L1351.2,448.5M1326.5,455.5L1351.2,448.5L1346.8,457.2M1312.4,465.8L1356.8,441.9M1331.9,448.9L1356.8,441.9L1352.4,450.6M1316.3,459.4L1349,438.3M1329.2,444.6L1349,438.3L1347.3,445.8M1317.4,453L1338.1,434.3M1323.2,440.1L1338.1,434.3L1339.3,440.8M1316.3,446.6L1304.8,429.6M1301.3,435.4L1304.8,429.6L1315.9,435M1312.3,440.2L1276,421.2M1279.8,428.2L1276,421.2L1296.1,426.8M1304,433.9L1251.3,412.3M1259.4,420.4L1251.3,412.3L1278,418.4M1291.7,427.6L1228.8,404.1M1239.5,413L1228.8,404.1L1259.7,410.7M1278.7,421.3L1220.3,398.9M1230,407.4L1220.3,398.9L1249.2,405.2M1269,415L1230.8,396.1M1235.3,403L1230.8,396.1L1251.5,401.6M1263.6,408.7L1263.1,392.2M1256.2,397.7L1263.1,392.2L1270.3,397.7M1261.7,402.3L1283.9,382.6M1268.1,388.7L1283.9,382.6L1285,389.5M1261.7,395.9L1299.4,372M1276.7,379.2L1299.4,372L1297.2,380.6M1262.9,389.5L1302.1,365M1278.7,372.4L1302.1,365L1299.7,373.8M1265.3,383.1L1296.5,360.7M1276.6,367.5L1296.5,360.7L1295.8,368.7M1267,376.7L1285.8,357.2M1271.3,363.3L1285.8,357.2L1288,364M1267.6,370.3L1263.4,354M1257.8,359.4L1263.4,354L1271.8,359.3M1265.9,364L1226.1,345.5M1231.3,352.3L1226.1,345.5L1247.1,350.9M1259.8,357.6L1203.4,336.9M1213.1,344.8L1203.4,336.9L1230.9,342.7M1247.6,351.4L1177.8,328.5M1191.1,337.3L1177.8,328.5L1210.7,334.8M1230.5,345.2L1161.8,322.7M1174.8,331.4L1161.8,322.7L1194.1,328.9M1214.6,339L1167.9,320.1M1175.2,327.2L1167.9,320.1L1191.4,325.5M1204.7,332.8L1186.2,316M1185.2,321.9L1186.2,316L1199.5,321.2M1200.4,326.4L1215.7,306.7M1202.2,313L1215.7,306.7L1219.1,313.5M1199.7,320.1L1228.7,296.3M1208.9,303.6L1228.7,296.3L1229.3,304.7M1199.4,313.7L1231.3,288.7M1210.1,296.3L1231.3,288.7L1231.5,297.5M1198.8,307.3L1224.6,284.1M1206.1,291.3L1224.6,284.1L1226,292.2M1198.2,300.9L1212.3,280.9M1199.1,287.3L1212.3,280.9L1216.2,287.8M1198.1,294.6L1192.9,277.9M1187.5,283.5L1192.9,277.9L1201.7,283.3M1196.1,288.2L1154.2,270.7M1160.5,277.2L1154.2,270.7L1175.5,275.7M1189.2,281.9L1127.6,262.2M1139.5,269.9L1127.6,262.2L1156.4,267.6M1175.4,275.8L1098.4,253.9M1114.4,262.5L1098.4,253.9L1133.2,259.7M1156,269.7L1078.5,247.9M1094.7,256.5L1078.5,247.9L1113.4,253.7M1137.8,263.6L1083.5,245.3M1093.6,252.3L1083.5,245.3L1109.3,250.3M1126.2,257.4L1105.5,240.9M1105.2,246.8L1105.5,240.9L1119.4,246M1120.8,251.1L1130.6,230.9M1118.7,237.4L1130.6,230.9L1136,237.8M1119.9,244.8L1141.4,220.3M1123.9,228L1141.4,220.3L1144.8,228.8M1118.5,238.4L1141.7,213M1123.1,221L1141.7,213L1144.9,221.8M1115.4,232.1L1133,208.6M1117.1,216L1133,208.6L1137.3,216.7M1113.5,225.8L1120.2,205.7M1109.4,212.2L1120.2,205.7L1126.6,212.4M1111.4,219.4L1097.9,203.2M1095.4,208.8L1097.9,203.2L1109.3,208.3M1104.8,213.2L1054.3,196.2M1063.7,202.7L1054.3,196.2L1078.2,200.9M1094.5,207L1023.7,188.1M1039,195.6L1023.7,188.1L1055.2,193M1078.8,200.9L994,180.3M1013.1,188.7L994,180.3L1030.8,185.6" stroke="#fff" stroke-width="7.3"/>
<path d="M1059.3,378.8 L1757.3,370.4" stroke="#000" stroke-width="4.2" stroke-dasharray="15.4,16.07"/>
<path d="M1309.7,215.6 1310.3,217 1310.8,218.2 1311.3,219.1 1311.7,220 1312.3,220.8 1313.1,221.9 1314.2,223.4 1315.7,225.4 1317.9,228.1 1320.7,231.7 1324.1,236 1327.9,240.8 1332.1,246 1336.5,251.4 1340.9,256.9 1345.2,262.3 1349.3,267.4 1353.4,272.5 1357.8,278 1362.3,283.5 1366.7,289.1 1370.9,294.4 1374.7,299.3 1378,303.7" stroke="#FFF53C" stroke-width="8" transform="translate(-4,-10)"/>
<path d="M1253.6,53.5L1295.6,31.7M1272.4,38.1L1295.6,31.7L1291.1,39.6M1257.4,62.1L1299.5,40.2M1276.2,46.6L1299.5,40.2L1295,48.2M1261.1,70.7L1303.4,48.7M1280,55.2L1303.4,48.7L1298.9,56.8M1264.7,79.3L1307.1,57.2M1283.7,63.7L1307.1,57.2L1302.6,65.3M1268.2,87.9L1310.7,65.8M1287.2,72.3L1310.7,65.8L1306.2,73.9M1271.5,96.5L1314.2,74.3M1290.6,80.8L1314.2,74.3L1309.6,82.4M1274.6,105.1L1317.5,82.8M1293.8,89.4L1317.5,82.8L1312.9,91M1277.8,113.7L1320.8,91.3M1297,97.9L1320.8,91.3L1316.2,99.5M1280.8,122.3L1324,99.9M1300.1,106.5L1324,99.9L1319.4,108.1M1283.9,130.9L1327.2,108.4M1303.2,115L1327.2,108.4L1322.5,116.6M1286.9,139.5L1330.3,116.9M1306.3,123.6L1330.3,116.9L1325.7,125.2M1289.8,148.1L1333.4,125.4M1309.3,132.1L1333.4,125.4L1328.7,133.7M1292.6,156.7L1336.3,134M1312.1,140.7L1336.3,134L1331.6,142.3M1295.2,165.3L1339.1,142.5M1314.9,149.2L1339.1,142.5L1334.4,150.8M1297.8,173.9L1341.8,151M1317.5,157.8L1341.8,151L1337.1,159.4M1300.4,182.5L1344.5,159.5M1320.1,166.3L1344.5,159.5L1339.8,167.9M1303,191.1L1347.3,168.1M1322.8,174.8L1347.3,168.1L1342.5,176.5M1305.6,199.7L1350.1,176.6M1325.5,183.4L1350.1,176.6L1345.3,185M1308,208.3L1342.7,183.4M1320.6,191L1342.7,183.4L1341.9,192.3M1310.2,216.9L1308.2,189.9M1297.3,198.9L1308.2,189.9L1320.4,198.8M1315.8,225.5L1297.8,197.7M1291.8,207.2L1297.8,197.7L1315.6,206.6M1322.6,234.1L1304.9,205.6M1298.5,215.4L1304.9,205.6L1322.9,214.7M1329.5,242.7L1312.5,213.9M1305.7,223.7L1312.5,213.9L1330.4,223.1M1336.4,251.3L1320.1,222.3M1313,232.1L1320.1,222.3L1337.9,231.5M1343.3,259.9L1327.7,230.6M1320.3,240.5L1327.7,230.6L1345.4,240M1350.2,268.5L1335.3,238.9M1327.5,248.9L1335.3,238.9L1352.9,248.4M1357.1,277.1L1342.9,247.2M1334.8,257.3L1342.9,247.2L1360.4,256.8M1364,285.7L1350.5,255.5M1342,265.7L1350.5,255.5L1367.9,265.2M1370.8,294.3L1358.1,263.9M1349.2,274.1L1358.1,263.9L1375.3,273.7M1377.4,302.9L1365.5,272.2M1356.3,282.5L1365.5,272.2L1382.6,282.1M1383.4,311.5L1372.2,280.5M1362.6,290.9L1372.2,280.5L1389.2,290.5M1385.8,320.1L1425,289.8M1399.1,299.1L1425,289.8L1425.1,300.5M1386,328.7L1415.7,297.9M1392.7,307.5L1415.7,297.9L1419.1,308.6M1394.1,337.3L1365.8,306.4M1361.9,317.1L1365.8,306.4L1388.4,316.1M1404.4,345.9L1322.3,319.4M1338.1,329.7L1322.3,319.4L1360.8,326.6M1415.6,354.5L1369.4,324.4M1371.8,335.2L1369.4,324.4L1397.5,333.5M1427.6,363.1L1450,331.8M1429.2,341.7L1450,331.8L1456,342.6M1436.7,371.7L1478.6,341.2M1451.7,350.5L1478.6,341.2L1477.8,352.1M1436.6,380.3L1466.7,349.2M1443.4,358.9L1466.7,349.2L1470.1,360M1438.6,388.9L1436.3,357.1M1423.4,367.6L1436.3,357.1L1450.6,367.6M1444.4,397.5L1380.4,368.6M1389.1,379.3L1380.4,368.6L1413.9,376.9M1453.3,406.1L1370.1,379.3M1386.1,389.7L1370.1,379.3L1409,386.6M1464,414.7L1411,384.7M1415.6,395.6L1411,384.7L1441.3,393.6M1472.5,423.3L1479.4,391.3M1463.4,401.7L1479.4,391.3L1490.8,402M1477.4,431.9L1512.9,400.7M1487.8,410.3L1512.9,400.7L1514.5,411.6M1475.3,440.5L1515.9,409.5M1489.2,419L1515.9,409.5L1515.7,420.5M1473.6,449.1L1487.8,417.1M1469.4,427.4L1487.8,417.1L1496.9,427.9M1479.1,457.7L1430.4,427.1M1433.4,438.1L1430.4,427.1L1459.6,436.3M1486.4,466.3L1402,439.2M1418.2,449.7L1402,439.2L1441.4,446.6M1493.4,474.9L1436.5,444.8M1442.3,455.8L1436.5,444.8L1468.1,453.7M1500.8,483.5L1510.1,451.2M1493.1,461.7L1510.1,451.2L1520.9,462M1505.7,492.1L1544.9,460.7M1518.5,470.3L1544.9,460.7L1545.4,471.8M1503,500.7L1541.9,469.2M1515.6,478.9L1541.9,469.2L1542.6,480.3M1498.9,509.3L1509.1,476.8M1491.8,487.3L1509.1,476.8L1519.7,487.7M1505.6,517.9L1452.1,487.2M1456.6,498.3L1452.1,487.2L1482.9,496.4M1510.9,526.5L1425.3,499.1M1441.8,509.7L1425.3,499.1L1465.3,506.5M1515.1,535.1L1456.5,504.7M1462.8,515.8L1456.5,504.7L1488.8,513.7M1518.5,543.7L1525.5,510.9M1509.2,521.6L1525.5,510.9L1537.3,521.9M1519.8,552.3L1557.6,520.4M1531.5,530.2L1557.6,520.4L1558.8,531.6M1516.1,560.9L1555,529M1528.5,538.8L1555,529L1555.8,540.3M1511.6,569.5L1515.2,536.6M1499.9,547.4L1515.2,536.6L1528.1,547.5M1512.3,578.1L1441.3,548.6M1452.1,559.6L1441.3,548.6L1477.4,557M1516.4,586.7L1435.2,558.3M1449.8,569.1L1435.2,558.3L1474.2,566.1M1522.2,595.3L1506,562.3M1497.2,573.5L1506,562.3L1525.5,572.9M1525.5,603.9L1525.5,570.7M1511.3,581.7L1525.5,570.7L1539.7,581.7" stroke="#FFF53C"/>
</g>
<path d="M1389,94.2 H1478" stroke="#E800F5" stroke-width="6"/>
<path d="M1474.5,85.8 L1515,94.2 L1474.5,102.6 Z" fill="#E800F5"/>
<text x="1522.5" y="106.2" font-size="32.5" text-anchor="start" font-weight="normal" fill="#0a0a0a">Refracted Ray</text>
<path d="M1389,136.7 H1478" stroke="#fff" stroke-width="6"/>
<path d="M1474.5,128.3 L1515,136.7 L1474.5,145.1 Z" fill="#fff"/>
<text x="1522.5" y="148.7" font-size="32.5" text-anchor="start" font-weight="normal" fill="#0a0a0a">Guided Ray</text>
<path d="M1389,179.2 H1478" stroke="#FFF53C" stroke-width="6"/>
<path d="M1474.5,170.8 L1515,179.2 L1474.5,187.6 Z" fill="#FFF53C"/>
<text x="1522.5" y="191.2" font-size="32.5" text-anchor="start" font-weight="normal" fill="#0a0a0a">Diffracted Ray</text>
<path d="M1389,221.7 H1478" stroke="#80FFFF" stroke-width="6"/>
<path d="M1474.5,213.3 L1515,221.7 L1474.5,230.1 Z" fill="#80FFFF"/>
<text x="1522.5" y="233.7" font-size="32.5" text-anchor="start" font-weight="normal" fill="#0a0a0a">Free Ray</text>
<text x="1689" y="568" font-size="39.5" text-anchor="start" font-weight="bold" fill="#0a0a0a">(B)</text>
<rect x="1059.3" y="52.6" width="698" height="553.8" fill="none" stroke="#262626" stroke-width="2.2"/>
<text x="1168.1" y="664.5" font-size="41" text-anchor="middle" font-weight="normal" fill="#262626">4.75</text>
<text x="1389.8" y="664.5" font-size="41" text-anchor="middle" font-weight="normal" fill="#262626">4.8</text>
<text x="1611.6" y="664.5" font-size="41" text-anchor="middle" font-weight="normal" fill="#262626">4.85</text>
<text x="1042.8" y="620.9" font-size="40.6" text-anchor="end" font-weight="normal" fill="#262626">0</text>
<text x="1042.8" y="528.7" font-size="40.6" text-anchor="end" font-weight="normal" fill="#262626">0.1</text>
<text x="1042.8" y="436.5" font-size="40.6" text-anchor="end" font-weight="normal" fill="#262626">0.2</text>
<text x="1042.8" y="344.3" font-size="40.6" text-anchor="end" font-weight="normal" fill="#262626">0.3</text>
<text x="1042.8" y="252.1" font-size="40.6" text-anchor="end" font-weight="normal" fill="#262626">0.4</text>
<text x="1042.8" y="159.9" font-size="40.6" text-anchor="end" font-weight="normal" fill="#262626">0.5</text>
<text x="1042.8" y="67.7" font-size="40.6" text-anchor="end" font-weight="normal" fill="#262626">0.6</text>
<path d="M1168.1,606.4 v-7.5 M1168.1,52.6 v7.5 M1389.8,606.4 v-7.5 M1389.8,52.6 v7.5 M1611.6,606.4 v-7.5 M1611.6,52.6 v7.5 M1059.3,514.2 h7.5 M1757.3,514.2 h-7.5 M1059.3,422 h7.5 M1757.3,422 h-7.5 M1059.3,329.8 h7.5 M1757.3,329.8 h-7.5 M1059.3,237.6 h7.5 M1757.3,237.6 h-7.5 M1059.3,145.4 h7.5 M1757.3,145.4 h-7.5" stroke="#262626" stroke-width="1.8" fill="none"/>
<text x="1408.5" y="38.5" font-size="45" text-anchor="middle" font-weight="bold" fill="#000">WNA of Rays</text>
<text x="1408.5" y="726.5" font-size="45" text-anchor="middle" font-weight="normal" fill="#262626">x [Re]</text>
<text transform="translate(962.5,330) rotate(-90)" font-size="45" text-anchor="middle" fill="#262626">z [Re]</text>
<rect x="140" y="904.7" width="1618.5" height="471.5" fill="#fff"/>
<path d="M409.8,904.7 V1376.2 M679.5,904.7 V1376.2 M949.2,904.7 V1376.2 M1219,904.7 V1376.2 M1488.8,904.7 V1376.2 M140,1022.6 H1758.5 M140,1140.5 H1758.5 M140,1258.3 H1758.5" stroke="#dcdcdc" stroke-width="1.8" fill="none"/>
<path d="M140,1141 160,1224 199,1306.5 230,1303.5 271.5,1198 288.5,1080 330,976 361,973.5 398.5,1051 440,1224 478.5,1307.5 509,1305 547.5,1208 566.5,1070 606,975.5 638.5,973 677,1050 717.5,1225 755,1308 786,1305 821.5,1211 844,1062.5 881,972 912,970 948.5,1044 992,1236 1027.5,1310 1057,1307.5 1093.5,1214 1115,1062.5 1152,971.5 1182.5,969 1220,1044 1263.5,1236 1297.5,1312 1327,1309 1360,1224 1383.5,1056 1420,971 1451,968.5 1486,1040 1531,1239 1564.5,1313 1590,1311" stroke="#000" stroke-width="4" fill="none" stroke-linejoin="miter"/>
<rect x="140" y="904.7" width="1618.5" height="471.5" fill="none" stroke="#262626" stroke-width="2.2"/>
<text x="140" y="1434.5" font-size="41.5" text-anchor="middle" font-weight="normal" fill="#262626">0</text>
<text x="409.8" y="1434.5" font-size="41.5" text-anchor="middle" font-weight="normal" fill="#262626">1</text>
<text x="679.5" y="1434.5" font-size="41.5" text-anchor="middle" font-weight="normal" fill="#262626">2</text>
<text x="949.2" y="1434.5" font-size="41.5" text-anchor="middle" font-weight="normal" fill="#262626">3</text>
<text x="1219" y="1434.5" font-size="41.5" text-anchor="middle" font-weight="normal" fill="#262626">4</text>
<text x="1488.8" y="1434.5" font-size="41.5" text-anchor="middle" font-weight="normal" fill="#262626">5</text>
<text x="1758.5" y="1434.5" font-size="41.5" text-anchor="middle" font-weight="normal" fill="#262626">6</text>
<text x="121.5" y="919.3" font-size="41" text-anchor="end" font-weight="normal" fill="#262626">40</text>
<text x="121.5" y="1037.2" font-size="41" text-anchor="end" font-weight="normal" fill="#262626">20</text>
<text x="121.5" y="1155" font-size="41" text-anchor="end" font-weight="normal" fill="#262626">0</text>
<text x="121.5" y="1272.9" font-size="41" text-anchor="end" font-weight="normal" fill="#262626">-20</text>
<text x="121.5" y="1390.8" font-size="41" text-anchor="end" font-weight="normal" fill="#262626">-40</text>
<path d="M409.8,1376.2 v-16 M409.8,904.7 v16 M679.5,1376.2 v-16 M679.5,904.7 v16 M949.2,1376.2 v-16 M949.2,904.7 v16 M1219,1376.2 v-16 M1219,904.7 v16 M1488.8,1376.2 v-16 M1488.8,904.7 v16 M140,1022.6 h16 M1758.5,1022.6 h-16 M140,1140.5 h16 M1758.5,1140.5 h-16 M140,1258.3 h16 M1758.5,1258.3 h-16" stroke="#262626" stroke-width="1.8" fill="none"/>
<path d="M1407.5,957.5 H1528.5" stroke="#000" stroke-width="4"/>
<text x="1539.5" y="970" font-size="32.5" text-anchor="start" font-weight="normal" fill="#0a0a0a">Guided Ray</text>
<text x="1677" y="1341.5" font-size="39.5" text-anchor="start" font-weight="bold" fill="#0a0a0a">(C)</text>
<text x="949" y="1494" font-size="45" text-anchor="middle" font-weight="normal" fill="#262626">Lat [deg]</text>
<text transform="translate(39.5,1140) rotate(-90)" font-size="45" text-anchor="middle" fill="#262626">WNA [deg]</text>
</svg></body></html>
